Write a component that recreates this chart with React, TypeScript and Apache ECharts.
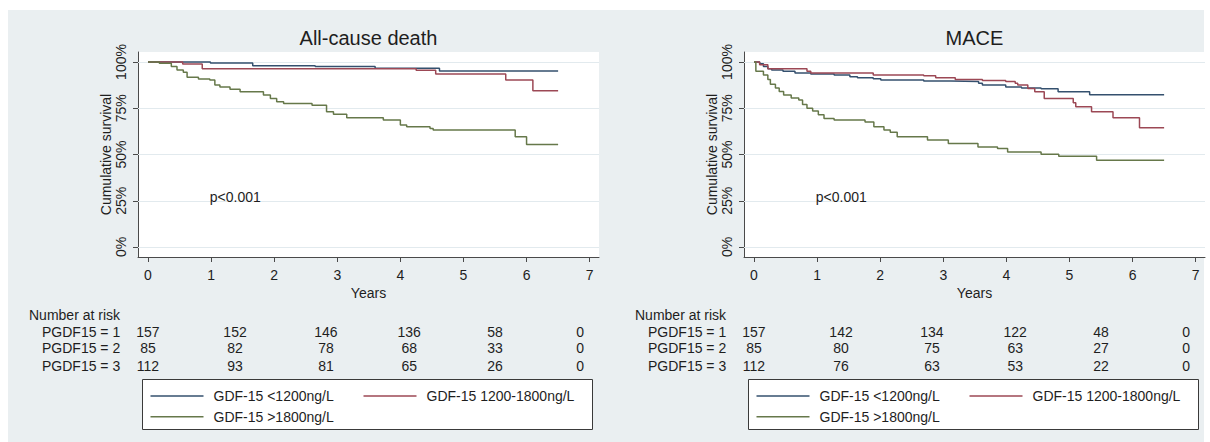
import React, { useEffect, useRef } from "react";
import * as echarts from "echarts";

// ---- data ----
const panelTitles = ["All-cause death", "MACE"];
const groupNames = ["GDF-15 <1200ng/L", "GDF-15 1200-1800ng/L", "GDF-15 >1800ng/L"];
const riskRowLabels = ["PGDF15 = 1", "PGDF15 = 2", "PGDF15 = 3"];
const riskHeading = "Number at risk";
const xAxisName = "Years";
const yAxisName = "Cumulative survival";
const pValueText = "p<0.001";
const xTicks = [0, 1, 2, 3, 4, 5, 6, 7];
const yTicks = [0, 25, 50, 75, 100];
const riskTimes = [0, 1.38, 2.82, 4.14, 5.5, 6.85];

// Kaplan-Meier estimates: [years, survival %]
const deathLow: number[][] = [
  [0, 100], [0.99, 99.4], [1.66, 98.0], [2.65, 97.5], [3.6, 96.6], [4.62, 95.1], [6.5, 95.1],
];
const deathMid: number[][] = [
  [0, 100], [0.55, 98.9], [0.86, 96.4], [4.25, 95.5], [4.56, 93.5], [5.67, 90.3], [6.1, 84.5], [6.5, 84.5],
];
const deathHigh: number[][] = [
  [0, 100], [0.18, 99.3], [0.37, 97.5], [0.46, 95.7], [0.56, 94.4], [0.62, 91.7], [0.8, 90.8],
  [0.98, 90.2], [1.06, 87.5], [1.14, 86.5], [1.3, 85.2], [1.46, 83.9], [1.83, 82.1], [1.94, 80.3],
  [2.04, 78.5], [2.15, 77.6], [2.6, 76.6], [2.83, 73.1], [2.94, 71.7], [3.15, 69.8], [3.73, 68.6],
  [4.0, 65.9], [4.1, 65.0], [4.47, 64.1], [4.52, 63.2], [5.82, 59.6], [6.0, 55.4], [6.5, 55.4],
];
const maceLow: number[][] = [
  [0, 100], [0.09, 99], [0.15, 97.5], [0.22, 96.4], [0.28, 95.7], [0.46, 95], [0.65, 94], [0.9, 93.5],
  [1.27, 93], [1.52, 92], [1.64, 91.5], [1.89, 91], [2.01, 90.2], [2.69, 89.7], [3.12, 89.5],
  [3.56, 88.5], [3.62, 87.5], [3.99, 86.5], [4.24, 86], [4.55, 85.5], [4.82, 83.9], [5.32, 82.3], [6.5, 82.3],
];
const maceMid: number[][] = [
  [0, 100], [0.09, 98.5], [0.22, 96.4], [0.84, 95], [0.9, 94], [1.89, 93], [2.69, 92.5], [2.88, 91.5],
  [3.19, 90.5], [3.62, 90], [3.99, 89.5], [4.14, 88.5], [4.18, 87.5], [4.34, 85.7], [4.45, 83.9],
  [4.6, 80.3], [5.06, 78], [5.1, 75.8], [5.35, 73.1], [5.69, 69.8], [6.11, 64.4], [6.5, 64.4],
];
const maceHigh: number[][] = [
  [0, 100], [0.03, 95], [0.15, 93], [0.22, 90.5], [0.26, 88], [0.34, 86], [0.4, 84], [0.47, 82.1],
  [0.59, 80.5], [0.71, 79.5], [0.77, 77], [0.84, 75], [0.93, 73.5], [1.02, 71.5], [1.11, 69.5],
  [1.27, 68.6], [1.76, 67.5], [1.9, 65], [2.06, 63.2], [2.16, 62], [2.27, 59.6], [2.75, 57.8],
  [3.08, 56], [3.55, 54.1], [3.86, 53.2], [4.02, 51.4], [4.55, 50.2], [4.83, 49.1], [5.43, 46.9], [6.5, 46.9],
];

const deathRisk = [
  [157, 152, 146, 136, 58, 0],
  [85, 82, 78, 68, 33, 0],
  [112, 93, 81, 65, 26, 0],
];
const maceRisk = [
  [157, 142, 134, 122, 48, 0],
  [85, 80, 75, 63, 27, 0],
  [112, 76, 63, 53, 22, 0],
];

// ---- layout & style ----
const FONT = "Liberation Sans, Arial, sans-serif";
const FS = 14;
const TEXT = "#1e1e1e";
const AXIS = "#4a4a4a";
const lineColors = ["#34506e", "#9c4855", "#66784a"];
const X_MIN = -0.158;
const X_MAX = 7.148;
const Y_MIN = -5.4;
const Y_MAX = 105.4;
const PLOT_LEFT = [138, 744];
const PLOT_TOP = 52;
const PLOT_W = 461;
const PLOT_H = 205;
const P_ANCHOR = [0.98, 27];
const RISK_HEAD_Y = 315;
const RISK_ROW_Y = [331.7, 348.3, 366];

export default function App() {
  const ref = useRef<HTMLDivElement>(null);

  useEffect(() => {
    const el = ref.current;
    if (!el) return;
    const chart = echarts.init(el, null, { renderer: "svg" });
    const curves = [
      [deathLow, deathMid, deathHigh],
      [maceLow, maceMid, maceHigh],
    ];
    const risks = [deathRisk, maceRisk];

    const xAxes = PLOT_LEFT.map((_, i) => ({
      type: "value",
      gridIndex: i,
      min: X_MIN,
      max: X_MAX,
      name: xAxisName,
      nameLocation: "middle",
      nameGap: 29,
      nameTextStyle: { fontSize: FS, color: TEXT, fontFamily: FONT },
      axisLine: { show: true, onZero: false, lineStyle: { color: AXIS, width: 1 } },
      axisTick: { show: true, customValues: xTicks, length: 5, lineStyle: { color: AXIS } },
      axisLabel: { customValues: xTicks, fontSize: FS, margin: 11, color: TEXT, fontFamily: FONT },
      splitLine: { show: false },
    }));

    const yAxes = PLOT_LEFT.map((_, i) => ({
      type: "value",
      gridIndex: i,
      min: Y_MIN,
      max: Y_MAX,
      name: yAxisName,
      nameLocation: "middle",
      nameGap: 25.5,
      nameTextStyle: { fontSize: FS, color: TEXT, fontFamily: FONT },
      axisLine: { show: true, onZero: false, lineStyle: { color: AXIS, width: 1 } },
      axisTick: { show: true, customValues: yTicks, length: 5, lineStyle: { color: AXIS } },
      axisLabel: {
        customValues: yTicks,
        rotate: 90,
        fontSize: FS,
        margin: 10.5,
        color: TEXT,
        fontFamily: FONT,
        formatter: (v: number) => `${v}%`,
      },
      splitLine: { show: false },
    }));

    const series: any[] = [];
    curves.forEach((set, i) => {
      set.forEach((data, k) => {
        const s: any = {
          type: "line",
          name: groupNames[k],
          xAxisIndex: i,
          yAxisIndex: i,
          data,
          step: "end",
          showSymbol: false,
          symbol: "none",
          lineStyle: { color: lineColors[k], width: 1.5 },
          itemStyle: { color: lineColors[k] },
          z: 3,
        };
        if (k === 0) {
          s.markLine = {
            silent: true,
            symbol: ["none", "none"],
            label: { show: false },
            lineStyle: { color: "#e2eaee", type: "solid", width: 1.2 },
            data: yTicks.map((v) => ({ yAxis: v })),
            z: 1,
          };
        }
        series.push(s);
      });
    });

    chart.setOption({
      animation: false,
      backgroundColor: "#ffffff",
      textStyle: { fontFamily: FONT },
      grid: PLOT_LEFT.map((left) => ({
        left,
        top: PLOT_TOP,
        width: PLOT_W,
        height: PLOT_H,
        show: true,
        backgroundColor: "#ffffff",
        borderWidth: 0,
        z: 0,
      })),
      xAxis: xAxes,
      yAxis: yAxes,
      series,
    });

    const graphic: any[] = [
      {
        type: "rect",
        z: -100,
        silent: true,
        shape: { x: 8, y: 10, width: 1196, height: 432 },
        style: { fill: "#eaeff1" },
      },
    ];

    const txt = (text: string, x: number, y: number, align: string, size = FS) => ({
      type: "text",
      x,
      y,
      z: 10,
      silent: true,
      style: {
        text,
        fill: TEXT,
        fontSize: size,
        fontFamily: FONT,
        textAlign: align,
        textVerticalAlign: "middle",
      },
    });

    PLOT_LEFT.forEach((left, i) => {
      // panel title
      graphic.push(txt(panelTitles[i], left + PLOT_W / 2, 38, "center", 20));

      // p-value annotation
      const pp = chart.convertToPixel({ gridIndex: i }, P_ANCHOR) as number[];
      graphic.push(txt(pValueText, pp[0], pp[1], "left"));

      // number-at-risk table
      graphic.push(txt(riskHeading, left - 109, RISK_HEAD_Y, "left"));
      risks[i].forEach((row, r) => {
        graphic.push(txt(riskRowLabels[r], left - 96, RISK_ROW_Y[r], "left"));
        row.forEach((n, j) => {
          const px = chart.convertToPixel({ gridIndex: i }, [riskTimes[j], 0]) as number[];
          graphic.push(txt(String(n), px[0], RISK_ROW_Y[r], "center"));
        });
      });

      // legend box
      const bx = left + 4.5;
      const by = 379.5;
      graphic.push({
        type: "rect",
        z: 5,
        silent: true,
        shape: { x: bx, y: by, width: 450, height: 50 },
        style: { fill: "#ffffff", stroke: "#3a3a3a", lineWidth: 1 },
      });
      const slots = [
        { lx: 8, tx: 71, ry: 16.5 },
        { lx: 221, tx: 284, ry: 16.5 },
        { lx: 8, tx: 71, ry: 37.2 },
      ];
      slots.forEach((s, k) => {
        graphic.push({
          type: "line",
          z: 6,
          silent: true,
          shape: { x1: bx + s.lx, y1: by + s.ry, x2: bx + s.lx + 53, y2: by + s.ry },
          style: { stroke: lineColors[k], lineWidth: 1.5 },
        });
        graphic.push(txt(groupNames[k], bx + s.tx, by + s.ry, "left"));
      });
    });

    chart.setOption({ graphic });

    return () => chart.dispose();
  }, []);

  return (
    <div
      ref={ref}
      style={{ position: "absolute", left: 0, top: 0, width: 1210, height: 442 }}
    />
  );
}
